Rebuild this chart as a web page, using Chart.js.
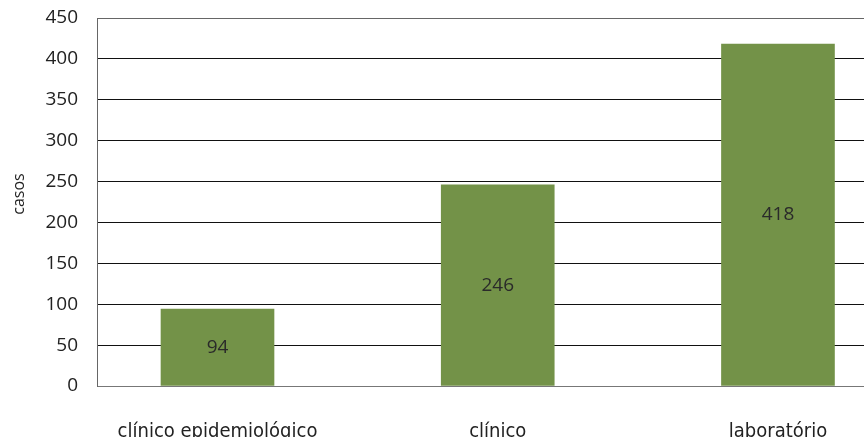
<!DOCTYPE html>
<html>
<head>
<meta charset="utf-8">
<script src="https://cdn.jsdelivr.net/npm/chart.js@4.4.1/dist/chart.umd.min.js"></script>
<style>
html,body{margin:0;padding:0;background:#fff;overflow:hidden;}
#wrap{width:864px;height:437px;position:relative;}
</style>
</head>
<body>
<div id="wrap"><canvas id="c"></canvas></div>
<script>
const categories = ['clínico epidemiológico', 'clínico', 'laboratório'];
const values = [94, 246, 418];
const yTicks = [0, 50, 100, 150, 200, 250, 300, 350, 400, 450];
const yTitle = 'casos';

const tickFont = {family: '"Open Sans", "DejaVu Sans", sans-serif', size: 19};
const catFont = {family: '"DejaVu Sans Condensed", "Liberation Sans Narrow", sans-serif', size: 20};

const valueLabels = {
  id: 'valueLabels',
  afterDatasetsDraw(chart) {
    const ctx = chart.ctx;
    const meta = chart.getDatasetMeta(0);
    ctx.save();
    ctx.font = '19px "Open Sans", "DejaVu Sans", sans-serif';
    ctx.fillStyle = '#2a2a2a';
    ctx.textAlign = 'center';
    ctx.textBaseline = 'middle';
    meta.data.forEach((bar, i) => {
      const y = (bar.y + bar.base) / 2;
      ctx.fillText(String(values[i]), bar.x, y);
    });
    // y-axis title
    ctx.translate(19, 194);
    ctx.rotate(-Math.PI / 2);
    ctx.font = '16px "Open Sans", "DejaVu Sans", sans-serif';
    ctx.fillStyle = '#222';
    ctx.fillText(yTitle, 0, 0);
    ctx.restore();
  }
};

new Chart(document.getElementById('c'), {
  type: 'bar',
  data: {
    datasets: [{
      data: categories.map((c, i) => ({x: i, y: values[i]})),
      backgroundColor: '#739248',
      borderWidth: 0,
      barThickness: 113
    }]
  },
  options: {
    responsive: true,
    maintainAspectRatio: false,
    devicePixelRatio: 1,
    animation: false,
    layout: {padding: {top: 18, right: 0, left: 0, bottom: 0}},
    plugins: {legend: {display: false}, tooltip: {enabled: false}},
    scales: {
      x: {
        type: 'linear',
        offset: false,
        min: -0.43,
        max: 2.307,
        grid: {display: false, drawTicks: false, offset: false},
        border: {display: true, color: '#777', width: 1},
        ticks: {
          stepSize: 1,
          includeBounds: false,
          autoSkip: false,
          maxRotation: 0,
          padding: 34,
          color: '#222',
          font: catFont,
          callback: v => Number.isInteger(v) && categories[v] !== undefined ? categories[v] : ''
        },
        afterFit: s => { s.height = 51; s.paddingLeft = 0; s.paddingRight = 0; }
      },
      y: {
        min: 0,
        max: 450,
        afterBuildTicks: s => { s.ticks = yTicks.map(v => ({value: v})); },
        grid: {
          drawTicks: false,
          color: ctx => (ctx.tick && (ctx.tick.value === 450 || ctx.tick.value === 0)) ? '#666' : '#111',
          lineWidth: 1
        },
        border: {display: true, color: '#666', width: 1},
        ticks: {padding: 19, color: '#222', font: tickFont},
        afterFit: s => { s.width = 97; s.paddingTop = 0; s.paddingBottom = 0; }
      }
    }
  },
  plugins: [valueLabels]
});
</script>
</body>
</html>
